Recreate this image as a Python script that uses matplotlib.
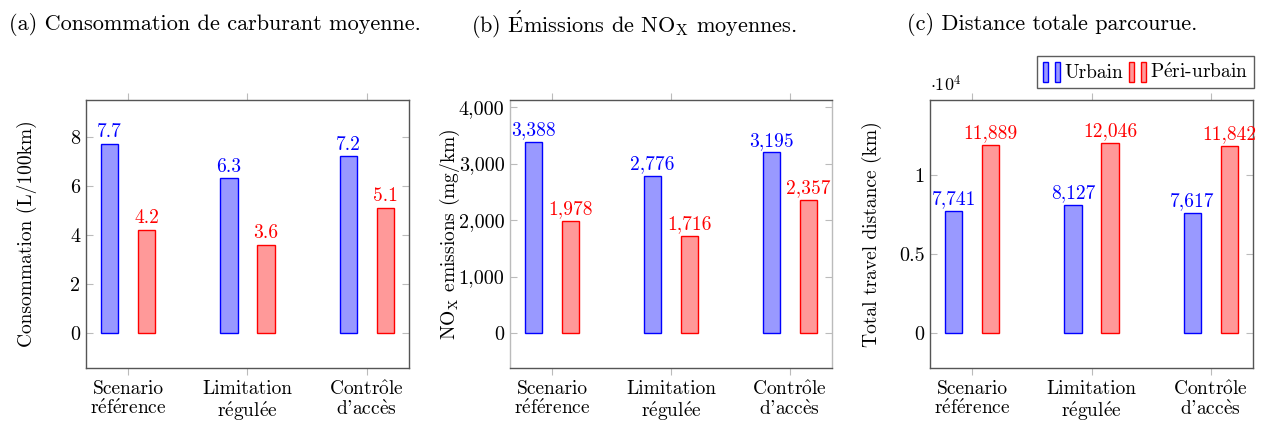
import matplotlib
matplotlib.use("Agg")
import matplotlib.pyplot as plt
import numpy as np
from matplotlib.patches import Patch
from matplotlib.legend_handler import HandlerTuple

plt.rcParams['font.family'] = ['cmr10', 'DejaVu Serif']
plt.rcParams['mathtext.fontset'] = 'cm'
plt.rcParams['axes.unicode_minus'] = False

# accented letters through mathtext so everything stays in Computer Modern
E_AIGU = r"$\mathrm{\acute{e}}$"
categories = ["Scenario\nr" + E_AIGU + "f" + E_AIGU + "rence",
              "Limitation\nr" + E_AIGU + "gul" + E_AIGU + "e",
              r"Contr$\mathrm{\hat{o}}$le" + "\nd'acc" + r"$\mathrm{\grave{e}}$s"]
series_names = ["Urbain", "P" + E_AIGU + "ri-urbain"]
conso_urbain = [7.7, 6.3, 7.2]
conso_peri = [4.2, 3.6, 5.1]
nox_urbain = [3388, 2776, 3195]
nox_peri = [1978, 1716, 2357]
dist_urbain = [7741, 8127, 7617]
dist_peri = [11889, 12046, 11842]

BLUE_F, BLUE_E = '#9999ff', '#0000ff'
RED_F, RED_E = '#ff9999', '#ff0000'

fig = plt.figure(figsize=(12.61, 4.23), dpi=100)
W, H = 1261, 423


def make_ax(x0, x1):
    return fig.add_axes([x0 / W, (H - 368) / H, (x1 - x0) / W, 268 / H])


def style(ax, ylim, yticks, yticklabels):
    x = np.arange(len(categories))
    ax.set_xlim(-0.355, 2.355)
    ax.set_ylim(*ylim)
    ax.set_xticks(x)
    ax.set_xticklabels(categories, fontsize=14, linespacing=1.05)
    ax.set_yticks(yticks)
    ax.set_yticklabels(yticklabels, fontsize=14.5)
    ax.tick_params(axis='x', direction='out', length=5, color='#bbbbbb',
                   top=True, bottom=True, pad=4)
    ax.tick_params(axis='y', direction='in', length=5, color='#bbbbbb',
                   left=True, right=True, pad=4)
    for s in ax.spines.values():
        s.set_color('#555555')
        s.set_linewidth(1.0)


def bars(ax, a, b, fmt):
    x = np.arange(len(categories))
    w = 0.145
    r1 = ax.bar(x - 0.155, a, w, color=BLUE_F, edgecolor=BLUE_E, linewidth=1.0)
    r2 = ax.bar(x + 0.155, b, w, color=RED_F, edgecolor=RED_E, linewidth=1.0)
    for r, v in zip(r1, a):
        ax.annotate(fmt(v), (r.get_x() + r.get_width() / 2, r.get_height()),
                    xytext=(0, 2), textcoords='offset points', ha='center',
                    va='bottom', color=BLUE_E, fontsize=14)
    for r, v in zip(r2, b):
        ax.annotate(fmt(v), (r.get_x() + r.get_width() / 2, r.get_height()),
                    xytext=(0, 2), textcoords='offset points', ha='center',
                    va='bottom', color=RED_E, fontsize=14)


# (a)
ax1 = make_ax(86, 409)
bars(ax1, conso_urbain, conso_peri, lambda v: f"{v:.1f}")
style(ax1, (-1.43, 9.5), [0, 2, 4, 6, 8], ['0', '2', '4', '6', '8'])
fig.text(27 / W, 1 - 234 / H, "Consommation (L/100km)", rotation=90,
         ha='center', va='center', fontsize=14)
fig.text(215 / W, 1 - 25 / H, "(a) Consommation de carburant moyenne.",
         ha='center', va='center', fontsize=16)

# (b)
ax2 = make_ax(510, 832)
bars(ax2, nox_urbain, nox_peri, lambda v: f"{v:,}")
style(ax2, (-619, 4124), [0, 1000, 2000, 3000, 4000],
      ['0', '1,000', '2,000', '3,000', '4,000'])
ax2.spines['left'].set_color('#bbbbbb')
ax2.spines['right'].set_color('#bbbbbb')
fig.text(450 / W, 1 - 234 / H, r"NO$_\mathrm{X}$ emissions (mg/km)", rotation=90,
         ha='center', va='center', fontsize=14)
fig.text(634 / W, 1 - 25 / H, r"(b) $\mathrm{\acute{E}}$missions de NO$_\mathrm{X}$ moyennes.",
         ha='center', va='center', fontsize=16)

# (c)
ax3 = make_ax(930, 1253)
bars(ax3, np.array(dist_urbain) / 1e4, np.array(dist_peri) / 1e4,
     lambda v: f"{int(round(v * 1e4)):,}")
style(ax3, (-0.2215, 1.475), [0, 0.5, 1], ['0', '0.5', '1'])
ax3.text(0.0, 1.02, r"$\cdot10^4$", transform=ax3.transAxes, ha='left',
         va='bottom', fontsize=13)
fig.text(872 / W, 1 - 234 / H, "Total travel distance (km)", rotation=90,
         ha='center', va='center', fontsize=14)
fig.text(1052 / W, 1 - 25 / H, "(c) Distance totale parcourue.",
         ha='center', va='center', fontsize=16)

hb = (Patch(facecolor=BLUE_F, edgecolor=BLUE_E), Patch(facecolor=BLUE_F, edgecolor=BLUE_E))
hr = (Patch(facecolor=RED_F, edgecolor=RED_E), Patch(facecolor=RED_F, edgecolor=RED_E))
leg = ax3.legend([hb, hr], series_names, loc='lower right',
                 bbox_to_anchor=(1.003, 1.045), ncol=2, frameon=True, fancybox=False,
                 fontsize=14, handler_map={tuple: HandlerTuple(ndivide=None, pad=0.4)},
                 handlelength=0.9, handleheight=1.2, handletextpad=0.2,
                 columnspacing=0.3, borderpad=0.3, borderaxespad=0)
leg.get_frame().set_edgecolor('#333333')
leg.get_frame().set_linewidth(1.0)

fig.savefig("out.png", dpi=100)
